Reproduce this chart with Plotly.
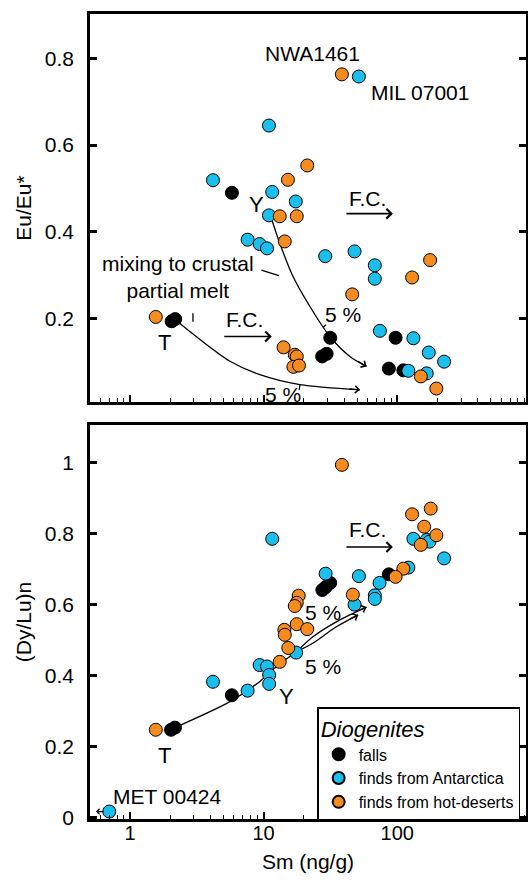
import math
import plotly.graph_objects as go

# ---------------- data ----------------
# Top panel: Sm (ng/g) vs Eu/Eu*
top_falls_sm = [2.05, 2.18, 5.79, 27.4, 29.6, 31.5, 86.5, 97.1, 111]
top_falls_eu = [0.194, 0.199, 0.490, 0.113, 0.119, 0.156, 0.085, 0.156, 0.081]

top_ant_sm = [51.6, 10.96, 4.18, 11.6, 17.4, 10.96, 7.59, 9.33, 10.6, 28.9, 47.9, 67.9, 67.9,
              74.1, 132, 172, 224, 121, 166]
top_ant_eu = [0.758, 0.645, 0.519, 0.492, 0.470, 0.438, 0.382, 0.372, 0.362, 0.344, 0.355, 0.323, 0.292,
              0.172, 0.155, 0.122, 0.101, 0.080, 0.074]

top_hot_sm = [38.5, 21.2, 15.2, 13.2, 17.7, 14.4, 176, 129, 46.0, 1.56, 14.1, 17.1, 17.7, 16.7, 18.4,
              150, 196]
top_hot_eu = [0.763, 0.553, 0.520, 0.436, 0.436, 0.378, 0.335, 0.295, 0.256, 0.204, 0.134, 0.117, 0.113,
              0.089, 0.092, 0.067, 0.039]

# mixing curves (top)
mixT_sm = [2.17, 3.34, 5.60, 9.38, 18.7, 52.5]
mixT_eu = [0.198, 0.152, 0.102, 0.071, 0.048, 0.036]
mixY_sm = [11.3, 13.2, 16.6, 22.2, 31.3, 44.2, 58.9]
mixY_eu = [0.436, 0.374, 0.297, 0.228, 0.159, 0.113, 0.090]

# Bottom panel: Sm (ng/g) vs (Dy/Lu)n
bot_falls_sm = [2.03, 2.17, 5.79, 27.5, 29.1, 31.5, 86.5]
bot_falls_dy = [0.248, 0.254, 0.345, 0.641, 0.649, 0.661, 0.685]

bot_ant_sm = [11.6, 132, 166, 174, 224, 121, 29.1, 51.6, 73.7, 67.9, 67.9, 47.9, 17.5, 9.33, 10.6,
              11.0, 11.0, 4.18, 7.59, 0.70]
bot_ant_dy = [0.785, 0.785, 0.782, 0.777, 0.730, 0.704, 0.687, 0.680, 0.661, 0.626, 0.616, 0.600, 0.465,
              0.430, 0.426, 0.402, 0.377, 0.383, 0.358, 0.018]

bot_hot_sm = [38.5, 129, 178, 159, 196, 150, 111, 97.1, 46.5, 18.3, 17.7, 17.1, 14.3, 14.4, 17.7, 21.2,
              15.3, 13.2, 1.56]
bot_hot_dy = [0.993, 0.854, 0.870, 0.819, 0.795, 0.768, 0.701, 0.678, 0.628, 0.625, 0.605, 0.596, 0.529,
              0.515, 0.545, 0.531, 0.478, 0.439, 0.248]

# mixing curves (bottom)
mixB_main_sm = [2.11, 5.60, 9.38, 12.5, 17.7]
mixB_main_dy = [0.252, 0.327, 0.384, 0.426, 0.468]
mixB_up_sm = [17.7, 23.5, 37.2, 58.9]
mixB_up_dy = [0.468, 0.510, 0.557, 0.593]
mixB_lo_sm = [17.7, 23.5, 34.1, 51.0]
mixB_lo_dy = [0.468, 0.492, 0.535, 0.571]

x_ticks = [1, 10, 100]
x_ticklabels = ["1", "10", "100"]
top_yticks = [0.2, 0.4, 0.6, 0.8]
bot_yticks = [0, 0.2, 0.4, 0.6, 0.8, 1]

# ---------------- style ----------------
BLACK = "#000000"
CYAN = "#1BBFEE"
ORANGE = "#F68B1F"
FONT = "Liberation Sans, Arial, sans-serif"
MS = 13

fig = go.Figure()


def pts(xs, ys, color, name, xa, ya, legend):
    fig.add_trace(go.Scatter(
        x=xs, y=ys, mode="markers", name=name, xaxis=xa, yaxis=ya,
        showlegend=legend, legendgroup=name,
        marker=dict(size=MS, color=color, line=dict(color="black", width=1)),
    ))


def curve(xs, ys, xa, ya):
    fig.add_trace(go.Scatter(
        x=xs, y=ys, mode="lines", xaxis=xa, yaxis=ya, showlegend=False,
        line=dict(color="black", width=1.3, shape="spline", smoothing=0.8),
        hoverinfo="skip",
    ))


# curves first (behind points)
curve(mixT_sm, mixT_eu, "x", "y")
curve(mixY_sm, mixY_eu, "x", "y")
curve(mixB_main_sm, mixB_main_dy, "x2", "y2")
curve(mixB_up_sm, mixB_up_dy, "x2", "y2")
curve(mixB_lo_sm, mixB_lo_dy, "x2", "y2")

pts(top_falls_sm, top_falls_eu, BLACK, "falls", "x", "y", False)
pts(top_ant_sm, top_ant_eu, CYAN, "finds from Antarctica", "x", "y", False)
pts(top_hot_sm, top_hot_eu, ORANGE, "finds from hot-deserts", "x", "y", False)
pts(bot_falls_sm, bot_falls_dy, BLACK, "falls", "x2", "y2", True)
pts(bot_ant_sm, bot_ant_dy, CYAN, "finds from Antarctica", "x2", "y2", True)
pts(bot_hot_sm, bot_hot_dy, ORANGE, "finds from hot-deserts", "x2", "y2", True)

L = math.log10
ann = []


def text(x, y, s, xa, ya, size=21, **kw):
    d = dict(x=L(x), y=y, text=s, xref=xa, yref=ya, showarrow=False,
             font=dict(family=FONT, size=size, color="black"))
    d.update(kw)
    ann.append(d)


def arrow(x, y, ax, ay, xa, ya, head=4, width=1.5, hs=1.0):
    ann.append(dict(x=L(x), y=y, ax=ax, ay=ay, xref=xa, yref=ya, axref="pixel", ayref="pixel",
                    text="", showarrow=True, arrowhead=head, arrowwidth=width, arrowsize=hs,
                    arrowcolor="black"))


# top panel annotations
text(23.4, 0.812, "NWA1461", "x", "y")
text(147.6, 0.722, "MIL 07001", "x", "y")
text(8.87, 0.462, "Y", "x", "y", size=22)
text(60.3, 0.477, "F.C.", "x", "y")
arrow(92.7, 0.442, -48, 0, "x", "y", head=4, width=1.6, hs=1.2)
text(2.3, 0.297, "mixing to crustal<br>partial melt", "x", "y")
arrow(13.0, 0.299, -19, -6, "x", "y", head=0, width=1.3)
arrow(2.96, 0.193, 0, -10, "x", "y", head=0, width=1.3)
text(1.80, 0.145, "T", "x", "y", size=22)
text(7.24, 0.198, "F.C.", "x", "y")
arrow(11.5, 0.159, -49, 0, "x", "y", head=4, width=1.6, hs=1.2)
text(39.2, 0.209, "5 %", "x", "y")
text(13.9, 0.025, "5 %", "x", "y")
arrow(29.2, 0.186, -4, 4, "x", "y", head=0, width=1.2)
arrow(18.7, 0.048, -1, 7, "x", "y", head=0, width=1.2)
# arrowheads at ends of the top curves
arrow(mixT_sm[-1], mixT_eu[-1], -12, -1, "x", "y", head=4, width=1.3, hs=1.1)
arrow(mixY_sm[-1], mixY_eu[-1], -10, -6, "x", "y", head=4, width=1.3, hs=1.1)

# bottom panel annotations
text(60.3, 0.811, "F.C.", "x2", "y2")
arrow(92.7, 0.762, -48, 0, "x2", "y2", head=4, width=1.6, hs=1.2)
text(27.8, 0.577, "5 %", "x2", "y2")
text(27.8, 0.425, "5 %", "x2", "y2")
text(14.9, 0.341, "Y", "x2", "y2", size=22)
text(1.80, 0.177, "T", "x2", "y2", size=22)
text(1.92, 0.059, "MET 00424", "x2", "y2")
arrow(0.557, 0.018, 9, 0, "x2", "y2", head=4, width=1.2, hs=0.9)
arrow(mixB_up_sm[-1], mixB_up_dy[-1], -10, 4, "x2", "y2", head=4, width=1.3, hs=1.1)
arrow(mixB_lo_sm[-1], mixB_lo_dy[-1], -10, 5, "x2", "y2", head=4, width=1.3, hs=1.1)

XR = [-0.299, 2.963]
TOPR = [0.008, 0.902]
BOTR = [-0.003, 1.105]

xcommon = dict(type="log", range=XR, showgrid=False, zeroline=False, showline=True, linewidth=2.5,
               linecolor="black", mirror=True, ticks="inside", ticklen=7, tickwidth=1.5, tickcolor="black",
               tickvals=x_ticks, ticktext=x_ticklabels, automargin=False,
               minor=dict(ticks="inside", ticklen=4, tickwidth=1.3, tickcolor="black", dtick="D1"),
               tickfont=dict(family=FONT, size=20, color="black"))
ycommon = dict(showgrid=False, zeroline=False, showline=True, linewidth=2.5, linecolor="black",
               mirror="ticks", ticks="inside", ticklen=7, tickwidth=2.5, tickcolor="black",
               automargin=False, ticklabelstandoff=9,
               tickfont=dict(family=FONT, size=21, color="black"))

fig.update_layout(
    width=528, height=884,
    margin=dict(l=90, r=2, t=14, b=65),
    paper_bgcolor="white", plot_bgcolor="white",
    font=dict(family=FONT, size=20, color="black"),
    showlegend=True,
    xaxis=dict(**xcommon, anchor="y", domain=[0, 1], showticklabels=False),
    yaxis=dict(**ycommon, domain=[0.518, 1], range=TOPR, tickvals=top_yticks, anchor="x",
               title=dict(text="Eu/Eu*", font=dict(family=FONT, size=21), standoff=8)),
    xaxis2=dict(**xcommon, anchor="y2", domain=[0, 1], ticklabelstandoff=-6,
                title=dict(text="Sm (ng/g)", font=dict(family=FONT, size=21), standoff=12)),
    yaxis2=dict(**ycommon, domain=[0, 0.4894], range=BOTR, tickvals=bot_yticks, anchor="x2",
                title=dict(text="(Dy/Lu)n", font=dict(family=FONT, size=21), standoff=8)),
    legend=dict(x=0.521, y=0.1388, xanchor="left", yanchor="top",
                bordercolor="black", borderwidth=1.5, bgcolor="white",
                font=dict(family=FONT, size=16, color="black"),
                title=dict(text="Diogenites", font=dict(family=FONT, size=22, style="italic")),
                itemsizing="constant", tracegroupgap=0),
    annotations=ann,
)

fig.write_html(
    "out.html",
    config={"displayModeBar": False},
    post_script="document.body.style.margin='0px';document.body.style.overflow='hidden';",
)
